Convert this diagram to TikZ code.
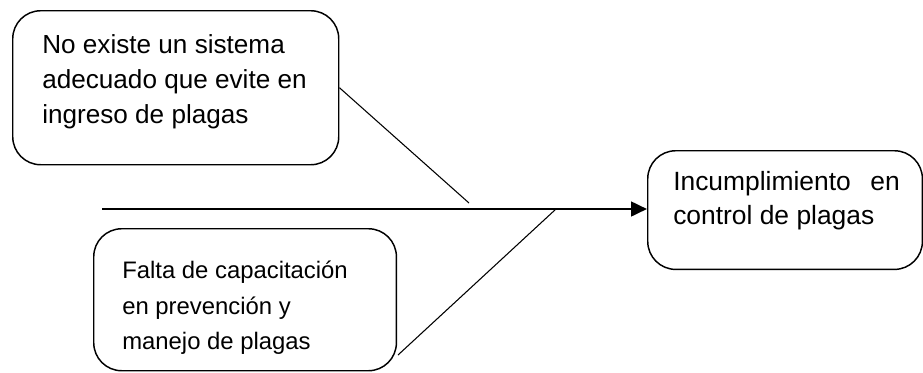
\documentclass[tikz,border=0pt]{standalone}
\usepackage{fontspec}
\setmainfont{Liberation Sans}
\usetikzlibrary{arrows.meta}
\begin{document}
\begin{tikzpicture}[x=0.75pt,y=-0.75pt,
  causebox/.style={draw=black,line width=1.1pt,rounded corners=21pt,inner sep=0pt,anchor=north west},
  boxtext/.style={inner sep=0pt,anchor=north west,align=left},
  bone/.style={draw=black,line width=0.8pt},
  spine/.style={draw=black,line width=2pt,-{Triangle[length=12pt,width=11pt]}}]
  \useasboundingbox (0,0) rectangle (923,372);

  % cause and effect boxes
  \node[causebox,minimum width=244.5pt,minimum height=115.5pt] (b1) at (12,10) {};
  \node[causebox,minimum width=227pt,minimum height=106.5pt] (b2) at (93,228) {};
  \node[causebox,minimum width=206pt,minimum height=89pt] (b3) at (647,150) {};

  \node[boxtext,font=\fontsize{19.6pt}{26.3pt}\selectfont] (t1) at (42,34)
    {No existe un sistema\\adecuado que evite en\\ingreso de plagas};
  \node[boxtext,font=\fontsize{17.9pt}{26.5pt}\selectfont] (t2) at (122,261)
    {Falta de capacitación\\en prevención y\\manejo de plagas};
  \node[boxtext,font=\fontsize{19.8pt}{25.8pt}\selectfont] (t3) at (673,171)
    {Incumplimiento\hspace{0.74em}en\\control de plagas};

  % spine and its free ends
  \coordinate (s0) at (102,209);
  \coordinate (j1) at (469,203);
  \coordinate (k2) at (398,355);
  \coordinate (j2) at (556,209);

  \draw[spine] (s0) -- (b3.west |- s0);
  \draw[bone] (b1.east) -- (j1);
  \draw[bone] (k2) -- (j2);
\end{tikzpicture}
\end{document}
